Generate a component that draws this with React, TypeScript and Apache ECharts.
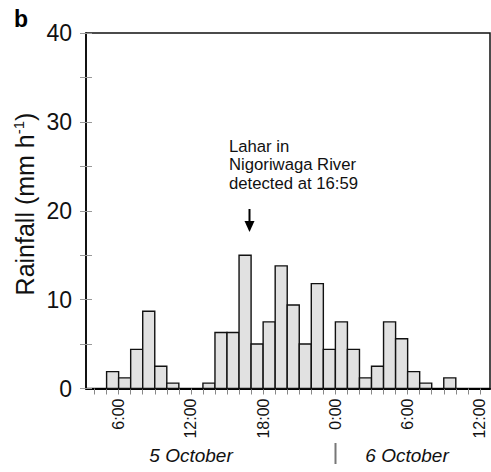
import React, { useEffect, useRef } from "react";
import * as echarts from "echarts";

// Hour at start of each hourly interval (hours since 5 October 0:00)
const hourStart = [5, 6, 7, 8, 9, 10, 11, 12, 13, 14, 15, 16, 17, 18, 19, 20, 21, 22, 23, 24, 25, 26, 27, 28, 29, 30, 31, 32, 33];
// Hourly rainfall (mm/h)
const rainfall = [1.9, 1.2, 4.4, 8.7, 2.5, 0.6, 0, 0, 0.6, 6.3, 6.3, 15.0, 5.0, 7.5, 13.8, 9.4, 5.0, 11.8, 4.4, 7.5, 4.4, 1.2, 2.5, 7.5, 5.6, 1.9, 0.6, 0, 1.2];
const xTickHours = [4, 5, 6, 7, 8, 9, 10, 11, 12, 13, 14, 15, 16, 17, 18, 19, 20, 21, 22, 23, 24, 25, 26, 27, 28, 29, 30, 31, 32, 33, 34, 35, 36];
const xLabelHours = [6, 12, 18, 24, 30, 36];
const dayLabels = ["5 October", "6 October"];
const annotationLines = ["Lahar in", "Nigoriwaga River", "detected at 16:59"];

const FONT = "'Liberation Sans', Arial, Helvetica, sans-serif";

export default function App() {
  const ref = useRef<HTMLDivElement>(null);
  useEffect(() => {
    if (!ref.current) return;
    const chart = echarts.init(ref.current, null, { renderer: "svg" });
    const data = hourStart.map((h, i) => [h, rainfall[i]]);
    chart.setOption({
      animation: false,
      backgroundColor: "#fff",
      grid: {
        left: 86,
        right: 1,
        top: 33,
        bottom: 83.5,
        show: true,
        borderColor: "#111",
        borderWidth: 1.5,
        backgroundColor: "transparent",
      },
      xAxis: {
        type: "value",
        min: 3.29,
        max: 36.84,
        splitLine: { show: false },
        axisLine: { show: true, onZero: false, lineStyle: { color: "#000", width: 2 } },
        axisTick: {
          show: true,
          customValues: xTickHours,
          length: 6,
          lineStyle: { color: "#888", width: 1 },
        },
        axisLabel: {
          customValues: xLabelHours,
          rotate: 90,
          margin: 10,
          fontSize: 16,
          color: "#111",
          fontFamily: FONT,
          formatter: (v: number) => `${Math.round(v) % 24}:00`,
        },
      },
      yAxis: [
        {
          type: "value",
          min: 0,
          max: 40,
          interval: 5,
          position: "left",
          splitLine: { show: false },
          axisLine: { show: true, onZero: false, lineStyle: { color: "#000", width: 1.5 } },
          axisTick: { show: true, length: 6, lineStyle: { color: "#999", width: 1 } },
          axisLabel: {
            margin: 14,
            fontSize: 23,
            color: "#111",
            fontFamily: FONT,
            formatter: (v: number) => (v % 10 === 0 ? String(v) : ""),
          },
        },
        {
          type: "value",
          min: 0,
          max: 40,
          interval: 5,
          position: "left",
          offset: 0,
          splitLine: { show: false },
          axisLine: { show: false },
          axisTick: { show: true, inside: true, length: 6, lineStyle: { color: "#999", width: 1 } },
          axisLabel: { show: false },
        },
      ],
      series: [
        {
          type: "custom",
          data,
          renderItem: (params: any, api: any) => {
            const h = api.value(0);
            const v = api.value(1);
            if (!v) return null;
            const p0 = api.coord([h, v]);
            const p1 = api.coord([h + 1, 0]);
            return {
              type: "rect",
              shape: { x: p0[0], y: p0[1], width: p1[0] - p0[0], height: p1[1] - p0[1] },
              style: { fill: "#e1e1e1", stroke: "#111", lineWidth: 1.4 },
            };
          },
          z: 1,
        },
      ],
      graphic: [
        {
          type: "text",
          left: 14,
          top: 7,
          style: { text: "b", font: `bold 23px ${FONT}`, fill: "#000" },
        },
        {
          type: "text",
          x: 25,
          y: 204,
          rotation: Math.PI / 2,
          style: {
            text: "{a|Rainfall (mm h}{s|-1}{a|)}",
            align: "center",
            verticalAlign: "middle",
            rich: {
              a: { fontSize: 25, fontFamily: FONT, fill: "#111", lineHeight: 28 },
              s: { fontSize: 15, fontFamily: FONT, fill: "#111", lineHeight: 28, verticalAlign: "top", padding: [0, 0, 8, 0] },
            },
          },
        },
        {
          type: "text",
          x: 229,
          y: 137,
          style: {
            text: annotationLines.join("\n"),
            font: `16.7px ${FONT}`,
            lineHeight: 18.5,
            fill: "#111",
          },
        },
        {
          type: "line",
          shape: { x1: 249.5, y1: 209, x2: 249.5, y2: 225 },
          style: { stroke: "#000", lineWidth: 2 },
        },
        {
          type: "polygon",
          shape: { points: [[244.5, 221], [254.5, 221], [249.5, 232]] },
          style: { fill: "#000" },
        },
        {
          type: "text",
          x: 191,
          y: 455,
          style: {
            text: dayLabels[0],
            font: `italic 19px ${FONT}`,
            fill: "#111",
            align: "center",
            verticalAlign: "middle",
          },
        },
        {
          type: "text",
          x: 407,
          y: 455,
          style: {
            text: dayLabels[1],
            font: `italic 19px ${FONT}`,
            fill: "#111",
            align: "center",
            verticalAlign: "middle",
          },
        },
        {
          type: "line",
          shape: { x1: 335.5, y1: 443, x2: 335.5, y2: 464 },
          style: { stroke: "#777", lineWidth: 2 },
        },
      ],
    });
    return () => chart.dispose();
  }, []);
  return <div ref={ref} style={{ width: 491, height: 472, position: "absolute", left: 0, top: 0 }} />;
}
